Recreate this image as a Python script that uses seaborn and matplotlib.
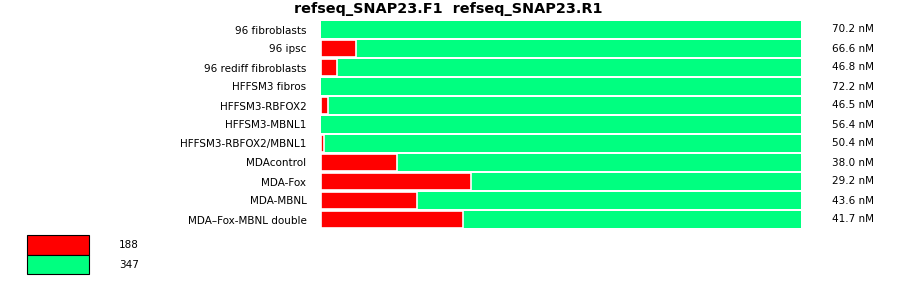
import numpy as np
import pandas as pd
import matplotlib
matplotlib.use("Agg")
import matplotlib.pyplot as plt
import seaborn as sns
from matplotlib.patches import Rectangle
from matplotlib.transforms import blended_transform_factory

samples = ["96 fibroblasts", "96 ipsc", "96 rediff fibroblasts", "HFFSM3 fibros",
           "HFFSM3-RBFOX2", "HFFSM3-MBNL1", "HFFSM3-RBFOX2/MBNL1", "MDAcontrol",
           "MDA-Fox", "MDA-MBNL", "MDA\u2013Fox-MBNL double"]
frac_188 = [0.0, 0.073, 0.034, 0.0, 0.015, 0.0, 0.007, 0.159, 0.3125, 0.201, 0.296]
frac_347 = [1.0 - v for v in frac_188]
conc = ["70.2 nM", "66.6 nM", "46.8 nM", "72.2 nM", "46.5 nM", "56.4 nM",
        "50.4 nM", "38.0 nM", "29.2 nM", "43.6 nM", "41.7 nM"]
legend_labels = ["188", "347"]
title = "refseq_SNAP23.F1  refseq_SNAP23.R1"

RED = "#ff0000"
GREEN = "#00ff80"

sns.set_style("white")
plt.rcParams["font.family"] = ["DejaVu Sans"]
plt.rcParams["text.color"] = "black"
plt.rcParams["ytick.color"] = "black"
plt.rcParams["ytick.labelcolor"] = "black"

df = pd.DataFrame({"sample": samples, "f188": frac_188, "f347": frac_347})
df["total"] = df["f188"] + df["f347"]

W, H = 900, 299
fig = plt.figure(figsize=(W / 100, H / 100), dpi=100)
ax = fig.add_axes([321 / W, 1 - 229 / H, 480 / W, 209 / H])

sns.barplot(data=df, x="total", y="sample", order=samples, color=GREEN,
            orient="h", width=0.9, ax=ax, edgecolor="none", linewidth=0,
            saturation=1)
red_df = df[df["f188"] > 0]
sns.barplot(data=red_df, x="f188", y="sample", order=samples, color=RED,
            orient="h", width=0.9, ax=ax, edgecolor="white", linewidth=1.2,
            saturation=1)

ax.set_xlim(0, 1)
ax.set_ylim(10.5, -0.5)
ax.set_xlabel("")
ax.set_ylabel("")
ax.set_xticks([])
for s in ax.spines.values():
    s.set_visible(False)
ax.tick_params(axis="y", length=0, pad=10.5, labelsize=7.5, labelcolor="black")

trans = blended_transform_factory(fig.transFigure, ax.transData)
for i, c in enumerate(conc):
    ax.text(832 / W, i, c, transform=trans, ha="left", va="center", fontsize=7.5,
            color="black")

fig.text(0.498, 1 - 9.5 / H, title, ha="center", va="center", fontsize=10.4,
         fontweight="bold", color="black")

for j, (lab, col) in enumerate(zip(legend_labels, [RED, GREEN])):
    y0 = 235 + j * 19.5
    fig.patches.append(Rectangle((27 / W, 1 - (y0 + 19.5) / H), 62 / W, 19.5 / H,
                                 transform=fig.transFigure, facecolor=col,
                                 edgecolor="black", linewidth=0.8))
    fig.text(119 / W, 1 - (y0 + 10) / H, lab, ha="left", va="center", fontsize=7.5,
             color="black")

fig.savefig("out.png", dpi=100)
